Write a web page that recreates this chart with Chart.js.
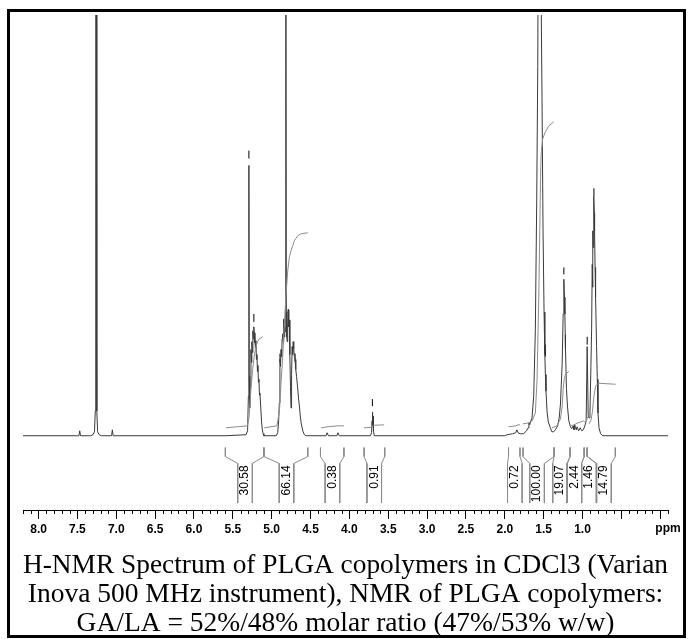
<!DOCTYPE html>
<html>
<head>
<meta charset="utf-8">
<script src="https://cdn.jsdelivr.net/npm/chart.js@4.4.0/dist/chart.umd.min.js"></script>
<style>
    html, body { margin: 0; padding: 0; background: #fff; }
    canvas { display: block; }
</style>
</head>
<body>
<canvas id="nmr" width="688" height="639"></canvas>
<script>
// 1H spectrum trace: chemical shift (ppm) and intensity (a.u., 0 = baseline)
const specPpm = [
    8.20, 7.50, 7.48, 7.47, 7.46, 7.33, 7.30, 7.28, 7.27, 7.264, 7.256, 7.25, 7.24, 7.22, 7.19, 7.06, 7.05, 7.04,
    5.60, 5.33, 5.31, 5.30, 5.293, 5.289, 5.283, 5.275, 5.267, 5.261, 5.255, 5.248, 5.242, 5.236, 5.229, 5.222,
    5.216, 5.210, 5.203, 5.196, 5.190, 5.183, 5.177, 5.170, 5.164, 5.157, 5.151, 5.140, 5.130, 5.120, 5.110, 5.100,
    4.940, 4.923, 4.910, 4.902, 4.895, 4.893, 4.886, 4.880, 4.872, 4.865, 4.858, 4.852, 4.845, 4.838, 4.832,
    4.826, 4.820, 4.816, 4.812, 4.806, 4.800, 4.794, 4.786, 4.780, 4.773, 4.766, 4.758, 4.751, 4.744, 4.737,
    4.730, 4.723, 4.716, 4.708, 4.699, 4.690, 4.680, 4.664, 4.655, 4.643, 4.632, 4.621, 4.600, 4.579, 4.560,
    4.300, 4.286, 4.270, 4.160, 4.147, 4.130, 3.730, 3.715, 3.708, 3.704, 3.700, 3.696, 3.690, 3.680,
    2.000, 1.970, 1.900, 1.860, 1.845, 1.830, 1.800, 1.760, 1.720, 1.700, 1.690, 1.680, 1.665, 1.650, 1.628,
    1.607, 1.589, 1.576, 1.566, 1.552, 1.540, 1.530, 1.521, 1.508, 1.495, 1.485, 1.478, 1.470, 1.456, 1.440,
    1.418, 1.395, 1.370,
    1.350, 1.320, 1.300, 1.284, 1.262, 1.249, 1.240, 1.233, 1.227, 1.220, 1.207, 1.194, 1.176, 1.155, 1.140,
    1.120, 1.110, 1.100, 1.090, 1.080, 1.070, 1.050, 1.030, 1.010, 0.990, 0.970, 0.953, 0.940, 0.927, 0.915,
    0.904, 0.892, 0.883, 0.875, 0.870, 0.866, 0.862, 0.858, 0.853, 0.848, 0.845, 0.838, 0.832, 0.819, 0.810,
    0.801, 0.788, 0.767, 0.740, -0.100
];
const specInt = [
    0, 0, 0, 5, 0, 0, 1, 4, 25, 600, 600, 25, 4, 1, 0, 0, 6, 0,
    0, 1, 5, 40, 273, 60, 28, 50, 87, 74, 95, 84, 106, 98, 110, 94,
    104, 88, 96, 77, 82, 65, 71, 54, 57, 41, 43, 28, 14, 6, 2, 0,
    0, 3, 15, 33, 60, 77, 70, 87, 80, 98, 103, 95, 117, 100, 110,
    105, 118, 600, 125, 100, 95, 113, 127, 110, 117, 82, 50, 28, 62, 90,
    82, 95, 88, 80, 77, 67, 60, 47, 38, 30, 20, 13, 5, 1, 0,
    0, 3, 0, 0, 3, 0, 0, 3, 15, 24, 10, 20, 5, 0,
    0, 1, 2, 3, 6, 3, 2, 2, 5, 8, 13, 11, 15, 18, 40,
    107, 240, 373, 600, 460, 600, 420, 340, 207, 125, 82, 62, 45, 24, 14,
    9, 4, 4,
    6, 10, 18, 32, 73, 123, 158, 140, 123, 92, 48, 30, 15, 9, 7,
    10, 6, 11, 8, 6, 9, 5, 8, 5, 6, 10, 15, 90, 20, 18,
    25, 70, 107, 173, 150, 207, 190, 240, 242, 225, 207, 170, 140, 90, 57,
    23, 8, 2, 0, 0
];

// integral traces
const integralPpm = [
    [5.590, 5.310, 5.289, 5.267, 5.245, 5.225, 5.203, 5.181, 5.160, 5.116],
    [5.096, 4.932, 4.900, 4.880, 4.858, 4.837, 4.815, 4.793, 4.773, 4.751, 4.729, 4.708, 4.664, 4.621, 4.535],
    [4.363, 4.286, 4.147, 4.070],
    [3.811, 3.717, 3.695, 3.553],
    [1.952, 1.860, 1.830, 1.805],
    [1.766, 1.690, 1.650, 1.607, 1.585, 1.563, 1.550, 1.537, 1.530, 1.512, 1.478, 1.434, 1.370],
    [1.392, 1.330, 1.284, 1.262, 1.249, 1.236, 1.220, 1.176],
    [1.155, 1.110, 1.060, 0.982],
    [0.978, 0.950, 0.935, 0.920],
    [0.917, 0.890, 0.875, 0.853, 0.832, 0.810, 0.788, 0.574]
];
const integralCurve = [
    [8, 10, 20, 47, 67, 80, 90, 95, 98, 100],
    [8, 10, 25, 53, 80, 113, 143, 167, 180, 187, 192, 197, 202, 204, 205],
    [8, 9, 10, 10],
    [8, 8.5, 10.5, 11],
    [9, 10, 11, 11],
    [12, 13, 15, 23, 57, 140, 207, 273, 287, 300, 307, 313, 317],
    [8, 10, 17, 30, 47, 57, 62, 65],
    [10, 11, 13, 15],
    [14, 15, 19, 20],
    [12, 16, 23, 40, 50, 52, 53, 52]
];

// integration regions and their values
const integralLabels = ['30.58', '66.14', '0.38', '0.91', '0.72', '100.00', '19.07', '2.44', '1.46', '14.79'];
const integralFrom = [5.596, 5.100, 4.372, 3.811, 1.952, 1.766, 1.366, 1.159, 0.978, 0.940];
const integralTo = [5.100, 4.535, 4.070, 3.545, 1.805, 1.366, 1.159, 0.978, 0.940, 0.578];
const labelPpm = [5.343, 4.809, 4.218, 3.680, 1.871, 1.585, 1.289, 1.106, 0.917, 0.724];

// peak-pick marks
const markerPpm = [5.293, 5.229, 4.893, 4.845, 4.786, 4.699, 3.704, 1.478, 1.240, 1.220, 0.940, 0.853];
const markerLow = [280, 115, 75, 110, 120, 75, 30, 80, 163, 87, 92, 242];
const markerHigh = [288, 123, 83, 118, 128, 83, 37, 92, 170, 102, 100, 250];

const captionLines = [
    'H-NMR Spectrum of PLGA copolymers in CDCl3 (Varian',
    'Inova 500 MHz instrument), NMR of PLGA copolymers:',
    'GA/LA = 52%/48% molar ratio (47%/53% w/w)'
];

// bracket geometry (intensity units below the baseline)
const BR_TOP = -12, BR_KINK1 = -21, BR_KINK2 = -28, BR_BOTTOM = -68, LABEL_TOP = -30;
const PAIR_HALF = 0.094;

function toPoints(xs, ys) {
    return xs.map((x, i) => ({ x: x, y: ys[i] }));
}

const bracketPoints = [];
integralFrom.forEach((from, i) => {
    const to = integralTo[i];
    const l = labelPpm[i] + PAIR_HALF;
    const r = labelPpm[i] - PAIR_HALF;
    bracketPoints.push(
        { x: from, y: BR_TOP }, { x: from, y: BR_KINK1 }, { x: l, y: BR_KINK2 }, { x: l, y: BR_BOTTOM }, { x: l, y: null },
        { x: to, y: BR_TOP }, { x: to, y: BR_KINK1 }, { x: r, y: BR_KINK2 }, { x: r, y: BR_BOTTOM }, { x: r, y: null }
    );
});

const markerPoints = [];
markerPpm.forEach((p, i) => {
    markerPoints.push({ x: p, y: markerLow[i] }, { x: p, y: markerHigh[i] }, { x: p, y: null });
});

const lineStyle = { pointRadius: 0, borderWidth: 1, tension: 0, fill: false, spanGaps: false };

const datasets = [
    { ...lineStyle, label: 'brackets', data: bracketPoints, borderColor: '#8c8c8c' },
    ...integralPpm.map((xs, i) => ({
        ...lineStyle, label: 'integral ' + integralLabels[i],
        data: toPoints(xs, integralCurve[i]), borderColor: '#8c8c8c'
    })),
    { ...lineStyle, label: 'spectrum', data: toPoints(specPpm, specInt), borderColor: '#3a3a3a' },
    { ...lineStyle, label: 'peaks', data: markerPoints, borderColor: '#000' }
];

const nmrDecor = {
    id: 'nmrDecor',
    beforeDraw(chart) {
        const ctx = chart.ctx;
        ctx.save();
        ctx.fillStyle = '#fff';
        ctx.fillRect(0, 0, chart.width, chart.height);
        ctx.restore();
    },
    afterDraw(chart) {
        const { ctx, scales: { x, y } } = chart;
        ctx.save();
        // minor ticks every 0.1 ppm
        ctx.strokeStyle = '#000';
        ctx.lineWidth = 1;
        ctx.beginPath();
        for (let i = -1; i <= 82; i++) {
            if (i % 5 === 0) continue;
            const px = Math.round(x.getPixelForValue(i / 10)) + 0.5;
            ctx.moveTo(px, y.bottom);
            ctx.lineTo(px, y.bottom + 3);
        }
        ctx.stroke();

        ctx.fillStyle = '#000';
        ctx.font = 'bold 12px "Liberation Sans", Arial, sans-serif';
        ctx.textAlign = 'center';
        ctx.textBaseline = 'top';
        ctx.fillText('ppm', x.right, y.bottom + 12);

        // integral values, rotated
        ctx.font = '12px "Liberation Sans", Arial, sans-serif';
        integralLabels.forEach((lab, i) => {
            ctx.save();
            ctx.translate(x.getPixelForValue(labelPpm[i]), y.getPixelForValue(LABEL_TOP));
            ctx.rotate(-Math.PI / 2);
            ctx.textAlign = 'right';
            ctx.textBaseline = 'middle';
            ctx.fillText(lab, 0, 0);
            ctx.restore();
        });

        // figure frame
        ctx.lineWidth = 3;
        ctx.strokeStyle = '#000';
        ctx.strokeRect(8.5, 10.5, 676, 626);
        ctx.restore();
    }
};

new Chart(document.getElementById('nmr').getContext('2d'), {
    type: 'line',
    data: { datasets },
    plugins: [nmrDecor],
    options: {
        responsive: false,
        animation: false,
        devicePixelRatio: 1,
        layout: { padding: { left: 23, right: 20, top: 15, bottom: 1 } },
        scales: {
            x: {
                type: 'linear',
                reverse: true,
                min: -0.1,
                max: 8.2,
                grid: { display: true, drawOnChartArea: false, drawTicks: true, tickLength: 8, color: '#000' },
                border: { display: true, color: '#000', width: 1 },
                ticks: {
                    stepSize: 0.5,
                    includeBounds: false,
                    autoSkip: false,
                    maxRotation: 0,
                    padding: 4,
                    color: '#000',
                    font: { family: '"Liberation Sans", Arial, sans-serif', size: 12, weight: 'bold' },
                    callback: v => (v >= 1 && v <= 8 ? v.toFixed(1) : '')
                }
            },
            y: { display: false, min: -76, max: 425 }
        },
        plugins: {
            legend: { display: false },
            tooltip: { enabled: false },
            title: {
                display: true,
                position: 'bottom',
                text: captionLines,
                color: '#000',
                font: { family: '"Liberation Serif", "Times New Roman", serif', size: 27.5, weight: 'normal', lineHeight: 1.05 },
                padding: { top: 10, bottom: 0 }
            }
        }
    }
});
</script>
</body>
</html>
